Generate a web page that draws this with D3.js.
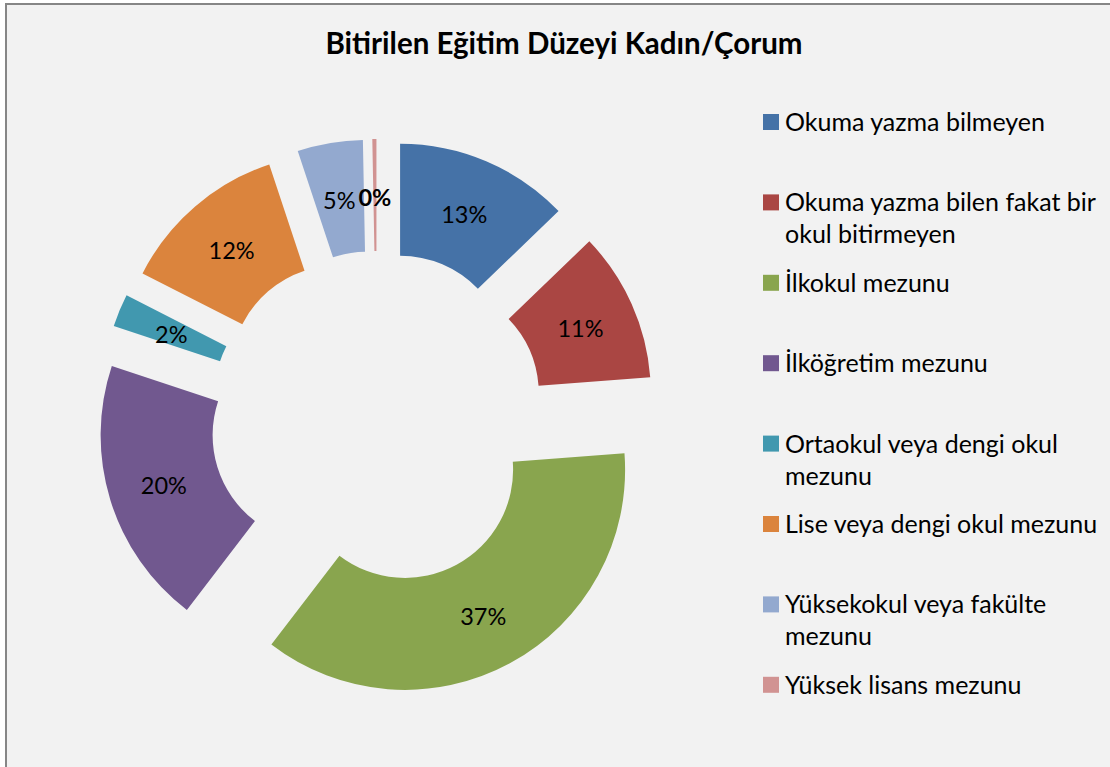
<!DOCTYPE html>
<head>
	<meta charset="utf-8">
	<title>Bitirilen Eğitim Düzeyi Kadın/Çorum</title>
	<script src="https://cdn.jsdelivr.net/npm/d3@7"></script>
	<style>
		body { margin: 0; background: white; }
		text { font-family: Lato, 'Open Sans', sans-serif; fill: black; }
	</style>
</head>
<body>
	<script>
		// data
		var categories = [
			"Okuma yazma bilmeyen",
			"Okuma yazma bilen fakat bir okul bitirmeyen",
			"İlkokul mezunu",
			"İlköğretim mezunu",
			"Ortaokul veya dengi okul mezunu",
			"Lise veya dengi okul mezunu",
			"Yüksekokul veya fakülte mezunu",
			"Yüksek lisans mezunu"
		];
		var values = [12.8, 11.0, 36.6, 19.7, 2.4, 12.4, 4.8, 0.3];
		var colors = ["#4572a7", "#aa4643", "#89a54e", "#71588f", "#4198af", "#db843d", "#93a9cf", "#d19392"];
		var title = "Bitirilen Eğitim Düzeyi Kadın/Çorum";

		var width = 1110;
		var height = 767;

		var svg = d3.select("body")
			.append("svg")
			.attr("width", width)
			.attr("height", height);

		svg.append("rect")
			.attr("x", 6).attr("y", 4)
			.attr("width", width + 10).attr("height", height + 10)
			.attr("fill", "#f2f2f2")
			.attr("stroke", "#868686")
			.attr("stroke-width", 2);

		svg.append("text")
			.attr("x", 564).attr("y", 54)
			.attr("text-anchor", "middle")
			.style("font-size", "29.5px")
			.style("font-weight", "bold")
			.text(title);

		var cx = 377, cy = 418;
		var outer = 220, inner = 108, explode = 59;

		var pie = d3.pie().sort(null).value(function(d) { return d; });
		var arc = d3.arc().innerRadius(inner).outerRadius(outer);
		var total = d3.sum(values);
		var fmt = d3.format(".0%");

		var arcs = pie(values);

		var g = svg.append("g").attr("transform", "translate(" + cx + "," + cy + ")");

		var slice = g.selectAll("g.slice")
			.data(arcs)
			.enter().append("g")
				.attr("class", "slice")
				.attr("transform", function(d) {
					var a = (d.startAngle + d.endAngle) / 2;
					return "translate(" + (Math.sin(a) * explode) + "," + (-Math.cos(a) * explode) + ")";
				});

		slice.append("path")
			.attr("d", arc)
			.attr("fill", function(d, i) { return colors[i]; });

		slice.append("text")
			.attr("transform", function(d) { return "translate(" + arc.centroid(d) + ")"; })
			.attr("text-anchor", "middle")
			.attr("dy", "0.45em")
			.style("font-size", "23.5px")
			.style("font-weight", function(d) { return d.value / total < 0.005 ? "bold" : "normal"; })
			.text(function(d) { return fmt(d.value / total); });

		// legend
		var legend = svg.append("g");
		var item = legend.selectAll("g")
			.data(categories)
			.enter().append("g")
				.attr("transform", function(d, i) { return "translate(763," + (114 + i * 80.4) + ")"; });

		item.append("rect")
			.attr("width", 16).attr("height", 16)
			.attr("fill", function(d, i) { return colors[i]; });

		item.append("text")
			.attr("x", 22).attr("y", 17)
			.style("font-size", "25px")
			.each(function(d) {
				var t = d3.select(this);
				var words = d.split(" ");
				var line = [];
				var tspan = t.append("tspan").attr("x", 22);
				var lineNo = 0;
				words.forEach(function(w) {
					line.push(w);
					tspan.text(line.join(" "));
					if (tspan.node().getComputedTextLength() > 322 && line.length > 1) {
						line.pop();
						tspan.text(line.join(" "));
						line = [w];
						lineNo++;
						tspan = t.append("tspan").attr("x", 22).attr("y", 17 + lineNo * 32).text(w);
					}
				});
			});
	</script>
</body>
